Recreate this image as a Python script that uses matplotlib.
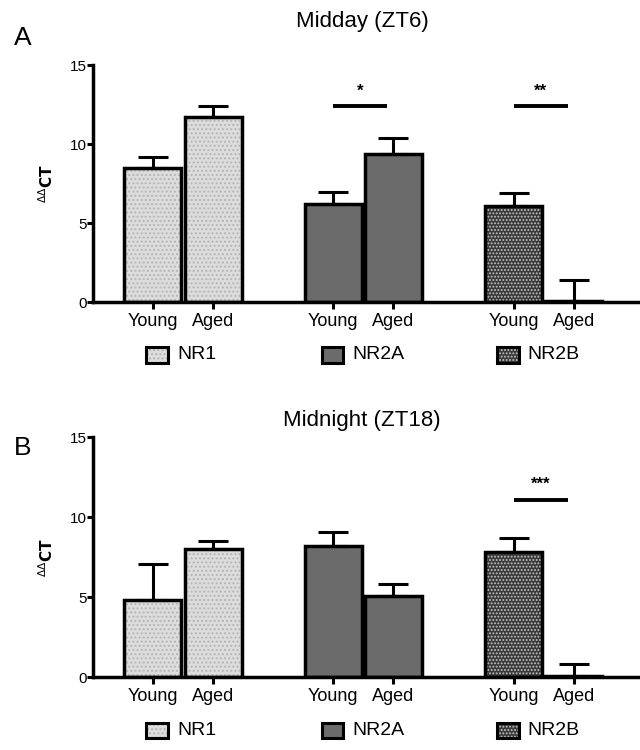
import matplotlib
matplotlib.use("Agg")
import matplotlib.pyplot as plt
from matplotlib.patches import Rectangle
from matplotlib.transforms import blended_transform_factory

plt.rcParams['font.family'] = ['Liberation Sans', 'DejaVu Sans']
plt.rcParams['hatch.linewidth'] = 0.9

genes = ['NR1', 'NR2A', 'NR2B']
ages = ['Young', 'Aged']
titles = ['Midday (ZT6)', 'Midnight (ZT18)']
letters = ['A', 'B']

# mean and SEM for (NR1 young, NR1 aged, NR2A young, NR2A aged, NR2B young, NR2B aged)
midday_mean = [8.5, 11.7, 6.2, 9.4, 6.1, 0.1]
midday_err = [0.7, 0.7, 0.8, 1.0, 0.8, 1.3]
midnight_mean = [4.8, 8.0, 8.2, 5.1, 7.8, 0.05]
midnight_err = [2.3, 0.5, 0.9, 0.7, 0.9, 0.75]

# significance: (gene index, bar height, stars)
midday_sig = [(1, 12.4, '*'), (2, 12.4, '**')]
midnight_sig = [(2, 11.1, '***')]

positions = [1, 2, 4, 5, 7, 8]
face = {'NR1': '#dcdcdc', 'NR2A': '#6b6b6b', 'NR2B': '#3a3a3a'}
hatch = {'NR1': '....', 'NR2A': None, 'NR2B': '.....'}
hatch_col = {'NR1': '#b4b4b4', 'NR2A': '#6b6b6b', 'NR2B': '#c4c4c4'}

fig = plt.figure(figsize=(6.4, 7.5), dpi=100)
ax_a = fig.add_axes([0.145, 0.597, 0.855, 0.316])
ax_b = fig.add_axes([0.145, 0.097, 0.855, 0.32])

panels = [(ax_a, midday_mean, midday_err, midday_sig, 0.971, 0.949),
          (ax_b, midnight_mean, midnight_err, midnight_sig, 0.439, 0.403)]

for k, (ax, means, errs, sigs, ty, ly) in enumerate(panels):
    for i, (x, m, e) in enumerate(zip(positions, means, errs)):
        g = genes[i // 2]
        # fill + hatch, then outline on top
        ax.bar(x, m, width=0.95, color=face[g], edgecolor=hatch_col[g],
               linewidth=0, hatch=hatch[g], zorder=2)
        ax.bar(x, m, width=0.95, fill=False, edgecolor='black',
               linewidth=2.5, zorder=2.5)
        ax.errorbar(x, m, yerr=[[0], [e]], color='black', elinewidth=2.2,
                    capsize=11, capthick=2.2, zorder=3)
    for gi, h, stars in sigs:
        x0, x1 = positions[2 * gi], positions[2 * gi + 1]
        ax.plot([x0, x1 - 0.1], [h, h], color='black', lw=2.8, solid_capstyle='butt')
        ax.text((x0 + x1) / 2 - 0.05, h + 0.5, stars, ha='center', va='bottom',
                fontsize=12, fontweight='bold')

    ax.set_xlim(0, 9.1)
    ax.set_ylim(0, 15)
    ax.set_yticks([0, 5, 10, 15])
    ax.set_xticks(positions)
    ax.set_xticklabels(ages * 3, fontsize=13)
    ax.tick_params(axis='y', labelsize=11, width=2.2, length=4, pad=0)
    ax.tick_params(axis='x', width=2.2, length=5, pad=3)
    for s in ['top', 'right']:
        ax.spines[s].set_visible(False)
    for s in ['left', 'bottom']:
        ax.spines[s].set_linewidth(2.5)
    ax.set_ylabel(r'$^{\Delta\Delta}\mathbf{CT}$', fontsize=11, labelpad=10)
    fig.text(0.566, ty, titles[k], fontsize=16, ha='center', va='center')
    fig.text(0.036, ly, letters[k], fontsize=19, ha='center', va='center')

    # group legend under each panel
    tr = blended_transform_factory(ax.transData, ax.transAxes)
    for gi, g in enumerate(genes):
        xc = 1.07 + 2.915 * gi
        ax.add_patch(Rectangle((xc - 0.18, -0.255), 0.36, 0.065, transform=tr,
                               facecolor=face[g], edgecolor=hatch_col[g], lw=0,
                               hatch=hatch[g], clip_on=False))
        ax.add_patch(Rectangle((xc - 0.18, -0.255), 0.36, 0.065, transform=tr,
                               fill=False, edgecolor='black', lw=2.2,
                               clip_on=False))
        ax.text(xc + 0.33, -0.222, g, transform=tr, fontsize=14,
                ha='left', va='center')

fig.savefig('out.png', dpi=100)
